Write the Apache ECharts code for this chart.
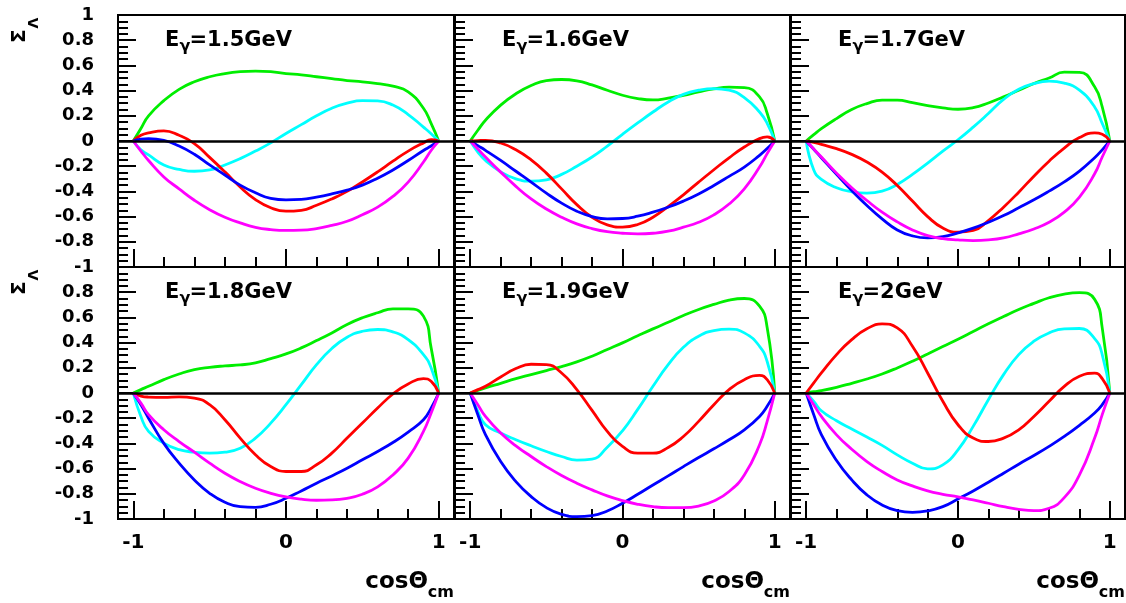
<!DOCTYPE html>
<html><head><meta charset="utf-8">
<script src="https://cdn.jsdelivr.net/npm/echarts@6/dist/echarts.min.js"></script>
<style>html,body{margin:0;padding:0;background:#fff}#c{width:1126px;height:603px}</style>
</head><body><div id="c"></div>
<script>
const xs = [-1,-0.95,-0.9,-0.8,-0.7,-0.6,-0.5,-0.4,-0.3,-0.2,-0.1,0,0.1,0.2,0.3,0.4,0.5,0.6,0.7,0.8,0.9,0.95,1];
const energies = ['1.5','1.6','1.7','1.8','1.9','2'];
const xMajorTicks = [-1,0,1];
const xMinorTicks = [-0.8,-0.6,-0.4,-0.2,0.2,0.4,0.6,0.8];
const colors = ['#00ee00','#00ffff','#ff0000','#0000ff','#ff00ff'];

const green15 = [0,0.10,0.20,0.32,0.41,0.47,0.51,0.535,0.55,0.555,0.55,0.535,0.525,0.51,0.495,0.48,0.47,0.455,0.435,0.39,0.26,0.14,0];
const cyan15 = [0,-0.07,-0.11,-0.19,-0.225,-0.24,-0.23,-0.19,-0.14,-0.08,-0.015,0.06,0.13,0.20,0.26,0.30,0.32,0.318,0.285,0.21,0.11,0.058,0];
const red15 = [0,0.045,0.065,0.08,0.045,-0.02,-0.13,-0.245,-0.365,-0.465,-0.53,-0.557,-0.55,-0.51,-0.46,-0.40,-0.325,-0.245,-0.16,-0.08,-0.015,0.01,0];
const blue15 = [0,0.015,0.018,0.005,-0.04,-0.105,-0.19,-0.27,-0.35,-0.41,-0.455,-0.467,-0.464,-0.445,-0.42,-0.39,-0.35,-0.295,-0.23,-0.155,-0.075,-0.04,0];
const magenta15 = [0,-0.08,-0.155,-0.285,-0.38,-0.47,-0.545,-0.605,-0.65,-0.685,-0.703,-0.71,-0.708,-0.695,-0.67,-0.637,-0.585,-0.525,-0.44,-0.326,-0.167,-0.075,0];

const green16 = [0,0.085,0.165,0.285,0.375,0.44,0.48,0.488,0.478,0.445,0.403,0.363,0.337,0.326,0.34,0.363,0.39,0.414,0.427,0.424,0.35,0.22,0];
const cyan16 = [0,-0.088,-0.155,-0.245,-0.30,-0.318,-0.308,-0.265,-0.20,-0.127,-0.04,0.053,0.143,0.23,0.31,0.37,0.403,0.416,0.403,0.345,0.23,0.14,0];
const red16 = [0,0.003,0.005,-0.016,-0.07,-0.15,-0.255,-0.38,-0.505,-0.605,-0.666,-0.684,-0.663,-0.605,-0.52,-0.427,-0.326,-0.228,-0.133,-0.048,0.019,0.032,0];
const blue16 = [0,-0.037,-0.074,-0.154,-0.24,-0.326,-0.414,-0.493,-0.557,-0.60,-0.618,-0.615,-0.597,-0.565,-0.525,-0.477,-0.42,-0.353,-0.281,-0.207,-0.114,-0.06,0];
const magenta16 = [0,-0.064,-0.127,-0.247,-0.36,-0.46,-0.54,-0.605,-0.658,-0.695,-0.72,-0.732,-0.737,-0.732,-0.716,-0.684,-0.645,-0.586,-0.50,-0.38,-0.207,-0.10,0];

const green17 = [0,0.05,0.098,0.178,0.25,0.297,0.324,0.324,0.305,0.281,0.263,0.252,0.265,0.302,0.35,0.403,0.456,0.50,0.546,0.545,0.43,0.27,0];
const cyan17 = [0,-0.23,-0.305,-0.371,-0.403,-0.414,-0.398,-0.345,-0.265,-0.175,-0.08,0.01,0.11,0.218,0.33,0.41,0.456,0.475,0.46,0.403,0.27,0.14,0];
const red17 = [0,-0.01,-0.027,-0.061,-0.106,-0.167,-0.247,-0.353,-0.477,-0.60,-0.69,-0.724,-0.71,-0.631,-0.525,-0.406,-0.279,-0.16,-0.056,0.027,0.064,0.053,0];
const blue17 = [0,-0.066,-0.133,-0.265,-0.393,-0.512,-0.618,-0.706,-0.753,-0.769,-0.759,-0.729,-0.692,-0.645,-0.592,-0.53,-0.467,-0.398,-0.324,-0.239,-0.133,-0.07,0];
const magenta17 = [0,-0.064,-0.127,-0.255,-0.371,-0.472,-0.565,-0.642,-0.706,-0.751,-0.775,-0.785,-0.79,-0.785,-0.769,-0.737,-0.698,-0.645,-0.565,-0.446,-0.26,-0.127,0];

const green18 = [0,0.027,0.053,0.106,0.151,0.186,0.204,0.215,0.223,0.239,0.273,0.31,0.358,0.416,0.477,0.544,0.597,0.637,0.668,0.668,0.61,0.36,0];
const cyan18 = [0,-0.186,-0.305,-0.398,-0.45,-0.47,-0.477,-0.47,-0.438,-0.358,-0.239,-0.093,0.066,0.225,0.353,0.443,0.49,0.504,0.485,0.424,0.305,0.2,0];
const red18 = [0,-0.024,-0.032,-0.034,-0.03,-0.04,-0.093,-0.212,-0.358,-0.49,-0.583,-0.623,-0.623,-0.57,-0.477,-0.358,-0.239,-0.119,-0.008,0.072,0.114,0.093,0];
const blue18 = [0,-0.093,-0.2,-0.4,-0.557,-0.69,-0.796,-0.867,-0.902,-0.907,-0.883,-0.836,-0.777,-0.716,-0.658,-0.597,-0.53,-0.464,-0.393,-0.31,-0.212,-0.12,0];
const magenta18 = [0,-0.08,-0.172,-0.292,-0.385,-0.47,-0.557,-0.637,-0.703,-0.756,-0.796,-0.825,-0.843,-0.851,-0.849,-0.836,-0.804,-0.745,-0.65,-0.517,-0.305,-0.16,0];

const green19 = [0,0.02,0.04,0.077,0.114,0.146,0.178,0.21,0.247,0.292,0.345,0.398,0.454,0.509,0.562,0.615,0.663,0.703,0.737,0.75,0.69,0.52,0];
const cyan19 = [0,-0.146,-0.252,-0.318,-0.371,-0.419,-0.464,-0.504,-0.533,-0.525,-0.43,-0.3,-0.13,0.053,0.225,0.363,0.451,0.496,0.507,0.477,0.371,0.25,0];
const red19 = [0,0.027,0.053,0.127,0.194,0.228,0.225,0.159,0.027,-0.138,-0.305,-0.424,-0.477,-0.477,-0.432,-0.345,-0.225,-0.093,0.027,0.106,0.14,0.106,0];
const blue19 = [0,-0.172,-0.33,-0.544,-0.703,-0.822,-0.91,-0.963,-0.981,-0.973,-0.936,-0.875,-0.804,-0.73,-0.658,-0.584,-0.512,-0.443,-0.371,-0.292,-0.186,-0.106,0];
const magenta19 = [0,-0.093,-0.186,-0.318,-0.419,-0.504,-0.584,-0.655,-0.716,-0.769,-0.817,-0.854,-0.883,-0.902,-0.91,-0.91,-0.897,-0.857,-0.782,-0.65,-0.411,-0.225,0];

const green20 = [0,0.01,0.019,0.045,0.077,0.111,0.151,0.199,0.252,0.31,0.369,0.427,0.488,0.549,0.607,0.663,0.711,0.756,0.785,0.796,0.743,0.517,0];
const cyan20 = [0,-0.066,-0.141,-0.22,-0.286,-0.35,-0.416,-0.491,-0.557,-0.602,-0.57,-0.451,-0.265,-0.053,0.146,0.305,0.411,0.477,0.509,0.512,0.432,0.305,0];
const red20 = [0,0.08,0.159,0.305,0.424,0.509,0.549,0.517,0.371,0.159,-0.066,-0.252,-0.358,-0.385,-0.358,-0.292,-0.186,-0.066,0.053,0.133,0.157,0.114,0];
const blue20 = [0,-0.172,-0.33,-0.536,-0.69,-0.809,-0.889,-0.934,-0.947,-0.936,-0.902,-0.841,-0.777,-0.708,-0.637,-0.565,-0.496,-0.424,-0.345,-0.257,-0.159,-0.093,0];
const magenta20 = [0,-0.093,-0.186,-0.332,-0.446,-0.544,-0.623,-0.69,-0.737,-0.777,-0.804,-0.825,-0.849,-0.875,-0.902,-0.923,-0.934,-0.915,-0.83,-0.65,-0.358,-0.172,0];

const panels = [
  [green15,cyan15,red15,blue15,magenta15],
  [green16,cyan16,red16,blue16,magenta16],
  [green17,cyan17,red17,blue17,magenta17],
  [green18,cyan18,red18,blue18,magenta18],
  [green19,cyan19,red19,blue19,magenta19],
  [green20,cyan20,red20,blue20,magenta20]
];

const FONT = 'DejaVu Sans';
const gl = [118, 455, 791], gw = [336, 335, 334], gt = [15, 267], gh = 252;

const grid = [], xAxis = [], yAxis = [], series = [], graphic = [];
function txt(x, base, s, size, align) {
  return {type:'text', x:x, y: base - 0.35*size, z:100, silent:true,
    style:{text:s, fontFamily:FONT, fontWeight:'bold', fontSize:size, fill:'#000', align:align||'left', verticalAlign:'middle'}};
}
for (let p = 0; p < 6; p++) {
  const r = Math.floor(p/3), c = p % 3;
  grid.push({left: gl[c], top: gt[r], width: gw[c], height: gh, show: true, borderColor: '#000', borderWidth: 2, backgroundColor: 'transparent'});
  xAxis.push({type:'value', gridIndex:p, min:-1.1, max:1.1, position:'bottom',
    axisLine:{show:false, onZero:false}, splitLine:{show:false},
    axisTick:{show:true, inside:true, length:18, customValues:xMajorTicks, lineStyle:{color:'#000', width:2}},
    axisLabel:{show: r===1, customValues:xMajorTicks, margin:14, color:'#000', fontFamily:FONT, fontWeight:'bold', fontSize:20}});
  xAxis.push({type:'value', gridIndex:p, min:-1.1, max:1.1, position:'bottom',
    axisLine:{show:false, onZero:false}, splitLine:{show:false},
    axisTick:{show:true, inside:true, length:10, customValues:xMinorTicks, lineStyle:{color:'#000', width:2}},
    axisLabel:{show:false}});
  yAxis.push({type:'value', gridIndex:p, min:-1, max:1, interval:0.2, position:'left',
    axisLine:{show:false, onZero:false}, splitLine:{show:false},
    axisTick:{show:true, inside:true, length:18, lineStyle:{color:'#000', width:2}},
    minorTick:{show:true, splitNumber:4, length:10, lineStyle:{color:'#000', width:2}},
    axisLabel:{show: c===0, margin:24, color:'#000', fontFamily:FONT, fontWeight:'bold', fontSize:18,
      formatter: function(v){ const t = Math.round(v*10)/10; if (r===1 && t===1) return ''; return String(t); }}});
  panels[p].forEach(function(vals, k){
    const s = {type:'line', xAxisIndex:2*p, yAxisIndex:p, data: xs.map(function(x,i){return [x, vals[i]];}),
      smooth:0.5, symbol:'none', lineStyle:{color:colors[k], width:2.8}, z:3, silent:true};
    if (k === 0) s.markLine = {silent:true, symbol:'none', label:{show:false}, lineStyle:{color:'#000', width:2.5, type:'solid'}, data:[{yAxis:0}], animation:false};
    series.push(s);
  });
  const L = gl[c], T = gt[r];
  graphic.push(txt(L+47, T+32.5, 'E', 21));
  graphic.push(txt(L+61.5, T+37.5, 'γ', 16));
  graphic.push(txt(L+71.5, T+32.5, '=' + energies[p] + 'GeV', 21));
  if (r === 1) {
    const R = gl[c] + gw[c];
    graphic.push(txt(R, 598, 'cm', 16, 'right'));
    graphic.push(txt(R-26, 590, 'cosΘ', 23, 'right'));
  }
}
for (let r = 0; r < 2; r++) {
  const T = gt[r];
  graphic.push({type:'text', x:20, y:T+28, rotation:Math.PI/2, z:100, silent:true,
    style:{text:'Σ', fontFamily:FONT, fontWeight:'bold', fontSize:20, fill:'#000', align:'left', verticalAlign:'middle'}});
  graphic.push({type:'text', x:34, y:T+13.5, rotation:Math.PI/2, z:100, silent:true,
    style:{text:'Λ', fontFamily:FONT, fontWeight:'bold', fontSize:14, fill:'#000', align:'left', verticalAlign:'middle'}});
}

const chart = echarts.init(document.getElementById('c'), null, {renderer:'canvas'});
chart.setOption({animation:false, backgroundColor:'#fff', grid:grid, xAxis:xAxis, yAxis:yAxis, series:series, graphic:graphic});
</script></body></html>
